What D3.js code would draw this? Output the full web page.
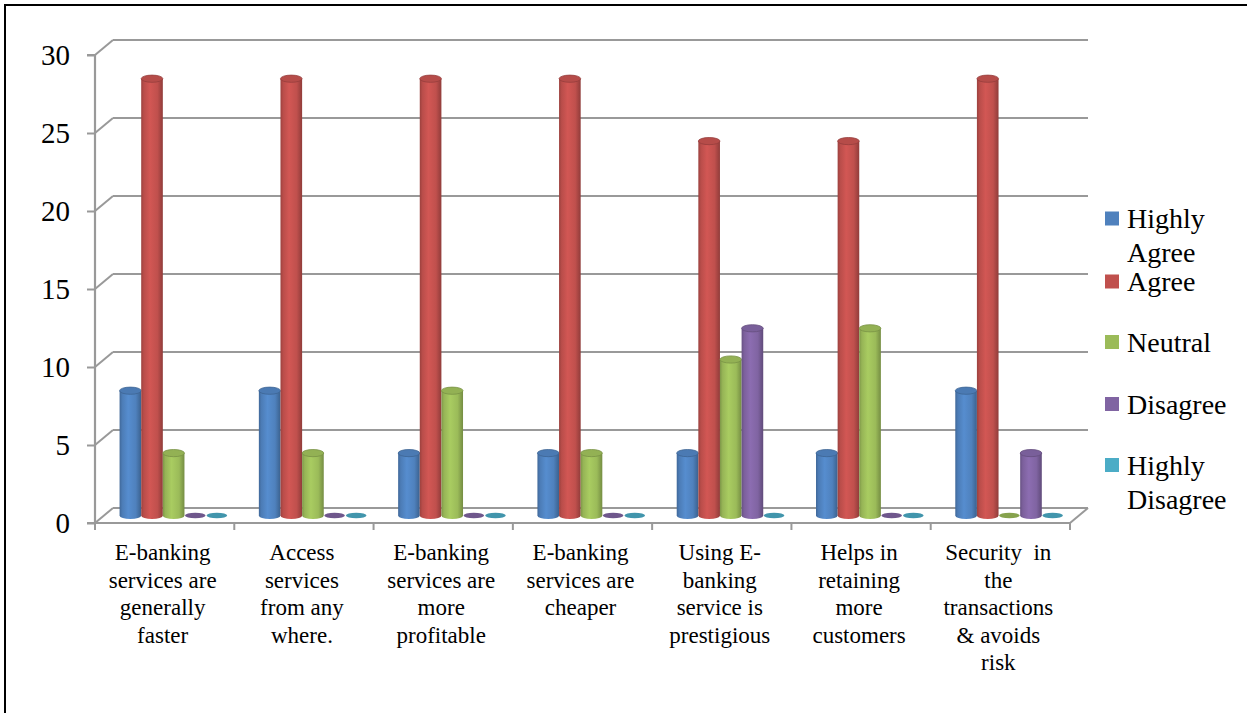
<!DOCTYPE html>
<html>
<head>
<meta charset="utf-8">
<script src="https://cdn.jsdelivr.net/npm/d3@7"></script>
<style>
  html, body { margin: 0; padding: 0; background: #fff; }
  svg { display: block; }
  text { font-family: "Liberation Serif", "Times New Roman", serif; fill: #000; }
</style>
</head>
<body>
<svg id="chart" width="1247" height="713"></svg>
<script>
// ---- data ----
const categories = [
  "E-banking services are generally faster",
  "Access services from any where.",
  "E-banking services are more profitable",
  "E-banking services are cheaper",
  "Using E-banking service is prestigious",
  "Helps in retaining more customers",
  "Security in the transactions & avoids risk"
];
const categoryLines = [
  ["E-banking", "services are", "generally", "faster"],
  ["Access", "services", "from any", "where."],
  ["E-banking", "services are", "more", "profitable"],
  ["E-banking", "services are", "cheaper"],
  ["Using E-", "banking", "service is", "prestigious"],
  ["Helps in", "retaining", "more", "customers"],
  ["Security\u00a0\u00a0in", "the", "transactions", "& avoids", "risk"]
];
const seriesNames = ["Highly Agree", "Agree", "Neutral", "Disagree", "Highly Disagree"];
const legendLines = [["Highly", "Agree"], ["Agree"], ["Neutral"], ["Disagree"], ["Highly", "Disagree"]];
const seriesColors = ["#4F81BD", "#C0504D", "#9BBB59", "#8064A2", "#4BACC6"];
const highlyAgree    = [8, 8, 4, 4, 4, 4, 8];
const agree          = [28, 28, 28, 28, 24, 24, 28];
const neutral        = [4, 4, 8, 4, 10, 12, 0];
const disagree       = [0, 0, 0, 0, 12, 0, 4];
const highlyDisagree = [0, 0, 0, 0, 0, 0, 0];
const yTicks = [0, 5, 10, 15, 20, 25, 30];

const seriesValues = [highlyAgree, agree, neutral, disagree, highlyDisagree];

// ---- layout ----
const svg = d3.select("#chart");
const left = 95, right = 1070, yZero = 523, yTop = 55;
const depthX = 18, depthY = -15;
const serif = '"Liberation Serif", "Times New Roman", serif';

// outer border
svg.append("rect").attr("x", 5).attr("y", 5).attr("width", 1260).attr("height", 730)
  .attr("fill", "none").attr("stroke", "#000").attr("stroke-width", 2);

const x0 = d3.scaleBand().domain(categories).range([left, right]).paddingInner(0).paddingOuter(0);
const x1 = d3.scaleBand().domain(seriesNames).range([0, x0.bandwidth()]).paddingInner(0).paddingOuter(0.72);
const y = d3.scaleLinear().domain([0, 30]).range([yZero, yTop]);

const gridColor = "#999999";
const grid = svg.append("g");
// back wall gridlines + left wall diagonals
yTicks.forEach(v => {
  grid.append("line")
    .attr("x1", left + depthX).attr("x2", right + depthX)
    .attr("y1", y(v) + depthY).attr("y2", y(v) + depthY)
    .attr("stroke", gridColor).attr("stroke-width", 2.2);
  grid.append("line")
    .attr("x1", left).attr("x2", left + depthX)
    .attr("y1", y(v)).attr("y2", y(v) + depthY)
    .attr("stroke", gridColor).attr("stroke-width", 2);
});
// floor front edge and right diagonal
grid.append("line").attr("x1", left).attr("x2", right).attr("y1", yZero).attr("y2", yZero)
  .attr("stroke", gridColor).attr("stroke-width", 2.2);
grid.append("line").attr("x1", right).attr("x2", right + depthX).attr("y1", yZero).attr("y2", yZero + depthY)
  .attr("stroke", gridColor).attr("stroke-width", 2);

// y axis (front vertical) with ticks
const yAxis = d3.axisLeft(y).tickValues(yTicks).tickSize(8).tickPadding(17);
const yg = svg.append("g").attr("transform", `translate(${left},0)`).call(yAxis);
yg.attr("font-family", null);
yg.select(".domain").attr("stroke", gridColor).attr("stroke-width", 2.2)
  .attr("d", `M-8,${yTop}H0V${yZero}H-8`);
yg.selectAll(".tick line").attr("stroke", gridColor).attr("stroke-width", 2);
yg.selectAll(".tick text").attr("font-size", 29).style("font-family", serif).attr("dy", "0.34em");

// x category tick marks
const boundaries = categories.map(c => x0(c)).concat([right]);
svg.append("g").selectAll("line").data(boundaries).join("line")
  .attr("x1", d => d).attr("x2", d => d).attr("y1", yZero).attr("y2", yZero + 7)
  .attr("stroke", gridColor).attr("stroke-width", 2);

// category labels
const labG = svg.append("g");
categories.forEach((c, i) => {
  const cx = x0(c) + x0.bandwidth() / 2 - 2;
  const t = labG.append("text").attr("text-anchor", "middle").attr("font-size", 23).style("font-family", serif);
  categoryLines[i].forEach((ln, j) => {
    t.append("tspan").attr("x", cx).attr("y", 560 + j * 27.5).text(ln);
  });
});

// gradients for cylinders
const defs = svg.append("defs");
seriesColors.forEach((col, i) => {
  const c = d3.color(col);
  const g = defs.append("linearGradient").attr("id", "cyl" + i)
    .attr("x1", "0%").attr("x2", "100%").attr("y1", "0%").attr("y2", "0%");
  g.append("stop").attr("offset", "0%").attr("stop-color", c.darker(0.6));
  g.append("stop").attr("offset", "12%").attr("stop-color", c.darker(0.1));
  g.append("stop").attr("offset", "40%").attr("stop-color", c.brighter(0.25));
  g.append("stop").attr("offset", "75%").attr("stop-color", c.copy());
  g.append("stop").attr("offset", "100%").attr("stop-color", c.darker(0.8));
});

// bars (cylinders) at mid depth
const midX = depthX / 2, midY = depthY / 2;
const ry = 3.6;
const barG = svg.append("g");
categories.forEach((c, ci) => {
  seriesNames.forEach((s, si) => {
    const v = seriesValues[si][ci];
    const bx = x0(c) + x1(s) + midX;
    const w = x1.bandwidth();
    const cx = bx + w / 2;
    const yb = y(0) + midY;
    const yt = y(v) + midY;
    const col = d3.color(seriesColors[si]);
    if (v > 0) {
      barG.append("path")
        .attr("d", `M${bx},${yt} L${bx},${yb} A${w / 2},${ry} 0 0 0 ${bx + w},${yb} L${bx + w},${yt} Z`)
        .attr("fill", `url(#cyl${si})`);
      barG.append("ellipse").attr("cx", cx).attr("cy", yt).attr("rx", w / 2).attr("ry", ry)
        .attr("fill", col.darker(0.15)).attr("stroke", col.darker(0.7)).attr("stroke-width", 0.8);
    } else {
      barG.append("ellipse").attr("cx", cx).attr("cy", yb).attr("rx", w / 2 - 0.5).attr("ry", ry - 0.8)
        .attr("fill", col.darker(0.4));
    }
  });
});

// legend
const legG = svg.append("g");
const legY = [218.5, 281.5, 342, 404, 465];
seriesNames.forEach((s, i) => {
  legG.append("rect").attr("x", 1105).attr("y", legY[i] - 7).attr("width", 14).attr("height", 14)
    .attr("fill", seriesColors[i]);
  const t = legG.append("text").attr("font-size", 28).style("font-family", serif);
  legendLines[i].forEach((ln, j) => {
    t.append("tspan").attr("x", 1127).attr("y", legY[i] + 9.5 + j * 34).text(ln);
  });
});
</script>
</body>
</html>
